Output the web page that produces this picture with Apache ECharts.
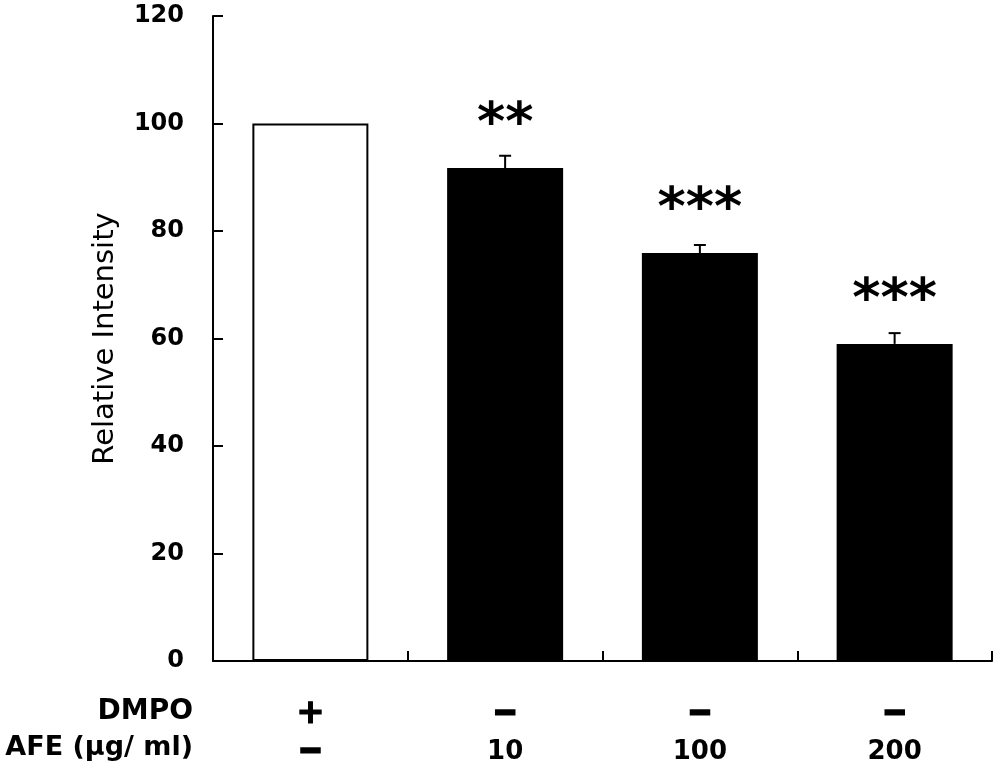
<!DOCTYPE html>
<html>
<head>
<meta charset="utf-8">
<script src="https://cdn.jsdelivr.net/npm/echarts@6/dist/echarts.min.js"></script>
<style>
html,body{margin:0;padding:0;background:#fff;}
#main{width:1000px;height:773px;}
</style>
</head>
<body>
<div id="main"></div>
<script>
// 数据
var groups = ['g1', 'g2', 'g3', 'g4'];
var dmpoRow = ['+', '\u2212', '\u2212', '\u2212'];
var afeRow = ['\u2212', '10', '100', '200'];
var intensity = [100, 91.7, 75.9, 59.0];
var errors = [0, 2.3, 1.5, 2.0];
var stars = ['', '**', '***', '***'];
var barColors = ['#ffffff', '#000000', '#000000', '#000000'];

var fontFam = '"DejaVu Sans", "Liberation Sans", Arial, sans-serif';

var myChart = echarts.init(document.getElementById('main'));

function bar_data(){
	var arr = [];
	for(var i = 0; i < intensity.length; i++){
		arr.push({value: intensity[i], itemStyle: {color: barColors[i]}});
	}
	return arr;
}

function err_data(){
	var arr = [];
	for(var i = 0; i < intensity.length; i++){
		arr.push([i, intensity[i], errors[i]]);
	}
	return arr;
}

//标签: 加号减号单独样式
function row_label(s, key){
	if(s == '\u2212'){
		return '{m|' + s + '}';
	}
	if(s == '+'){
		return '{p|' + s + '}';
	}
	return '{' + key + '|' + s + '}';
}

//误差线和星号
function renderErr(params, api){
	var idx = api.value(0);
	var v = api.value(1);
	var e = api.value(2);
	var s = stars[idx];
	var base = api.coord([idx, v]);
	var top = api.coord([idx, v + e]);
	var children = [];
	if(e > 0){
		children.push({
			type: 'line',
			shape: {x1: base[0], y1: base[1], x2: top[0], y2: top[1]},
			style: {stroke: '#000', lineWidth: 2}
		});
		children.push({
			type: 'line',
			shape: {x1: top[0] - 6, y1: top[1], x2: top[0] + 6, y2: top[1]},
			style: {stroke: '#000', lineWidth: 2}
		});
	}
	if(s){
		children.push({
			type: 'text',
			x: base[0],
			y: base[1] - 42,
			style: {
				text: s,
				fill: '#000',
				font: 'bold 54px ' + fontFam,
				align: 'center',
				verticalAlign: 'middle'
			}
		});
	}
	return {type: 'group', children: children};
}

var option = {
	backgroundColor: '#fff',
	animation: false,
	grid: {left: 213, right: 8, top: 16, bottom: 112, containLabel: false},
	xAxis: {
		type: 'category',
		data: groups,
		axisLine: {lineStyle: {color: '#000', width: 2}},
		axisTick: {show: true, inside: true, length: 10, alignWithLabel: false, lineStyle: {color: '#000', width: 2}},
		axisLabel: {
			margin: 34,
			interval: 0,
			formatter: function(val, i){
				return row_label(dmpoRow[i], 'a') + '\n' + row_label(afeRow[i], 'b');
			},
			rich: {
				a: {fontSize: 26, fontWeight: 'bold', color: '#000', fontFamily: fontFam, lineHeight: 38},
				b: {fontSize: 26, fontWeight: 'bold', color: '#000', fontFamily: fontFam, lineHeight: 38},
				p: {fontSize: 34, fontWeight: 'bold', color: '#000', fontFamily: fontFam, lineHeight: 38, textBorderColor: '#000', textBorderWidth: 1},
				m: {fontSize: 28, fontWeight: 'bold', color: '#000', fontFamily: fontFam, lineHeight: 38, textBorderColor: '#000', textBorderWidth: 3}
			}
		}
	},
	yAxis: {
		type: 'value',
		min: 0,
		max: 120,
		interval: 20,
		name: 'Relative Intensity',
		nameLocation: 'middle',
		nameGap: 93,
		nameTextStyle: {fontSize: 29, color: '#000', fontFamily: fontFam},
		axisLine: {show: true, lineStyle: {color: '#000', width: 2}},
		axisTick: {show: true, inside: true, length: 10, lineStyle: {color: '#000', width: 2}},
		axisLabel: {margin: 29, fontSize: 24, fontWeight: 'bold', color: '#000', fontFamily: fontFam},
		splitLine: {show: false}
	},
	graphic: [
		{type: 'text', right: 1000 - 193, top: 698, style: {text: 'DMPO', font: 'bold 28px ' + fontFam, fill: '#000', align: 'right'}},
		{type: 'text', right: 1000 - 193, top: 734, style: {text: 'AFE (\u00b5g/ ml)', font: 'bold 27px ' + fontFam, fill: '#000', align: 'right'}}
	],
	series: [
		{
			type: 'bar',
			data: bar_data(),
			barWidth: 116,
			itemStyle: {borderColor: '#000', borderWidth: 2}
		},
		{
			type: 'custom',
			data: err_data(),
			renderItem: renderErr,
			z: 5
		}
	]
};

myChart.setOption(option);
</script>
</body>
</html>
